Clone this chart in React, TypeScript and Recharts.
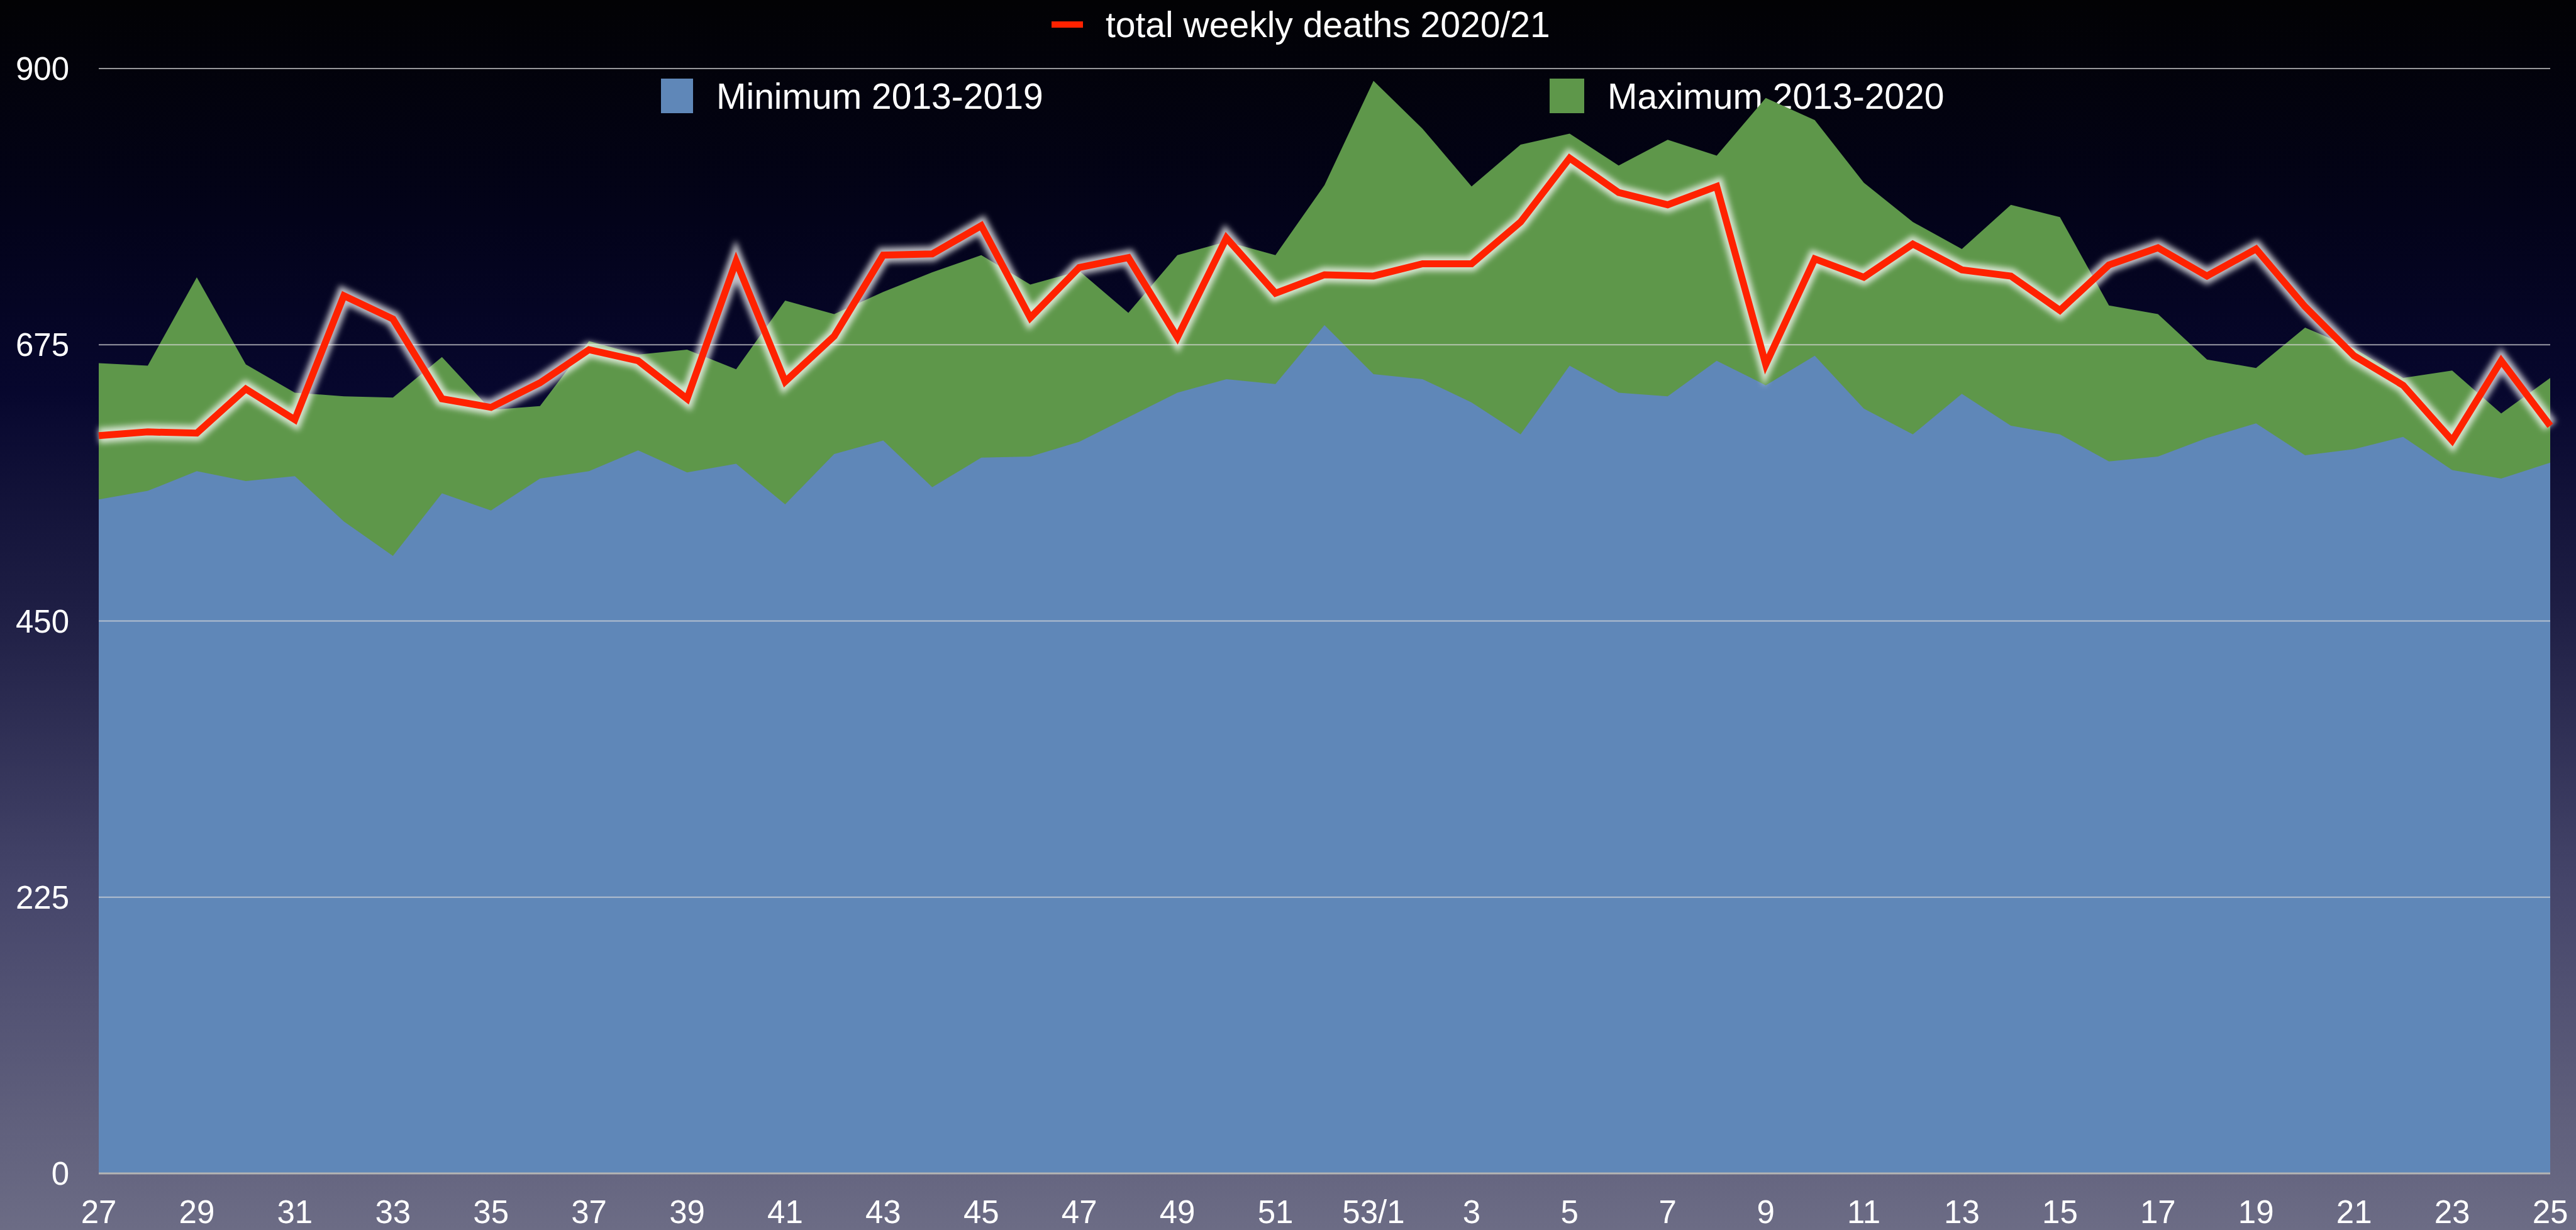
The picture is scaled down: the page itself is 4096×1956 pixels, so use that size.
import React from "react";
import { ComposedChart, Area, Line, XAxis, YAxis, ReferenceLine } from "recharts";

const weeks = [
  "27", "28", "29", "30", "31", "32", "33", "34", "35", "36", "37", "38", "39",
  "40", "41", "42", "43", "44", "45", "46", "47", "48", "49", "50", "51", "52",
  "53/1", "2", "3", "4", "5", "6", "7", "8", "9", "10", "11", "12", "13", "14",
  "15", "16", "17", "18", "19", "20", "21", "22", "23", "24", "25",
];

const totalDeaths2020 = [
  601, 604, 603, 639, 614, 715, 696, 631, 624, 644, 671, 662, 631,
  743, 645, 682, 748, 749, 772, 697, 738, 746, 681, 762, 717, 732,
  731, 741, 741, 775, 827, 799, 789, 804, 659, 745, 730, 757, 736, 731,
  703, 740, 754, 731, 753, 706, 666, 642, 597, 662, 609,
];

const minimum2013to2019 = [
  549, 556, 572, 564, 568, 531, 503, 554, 540, 566, 572, 589, 571,
  578, 545, 586, 597, 559, 583, 584, 596, 616, 636, 647, 643, 691,
  651, 647, 628, 602, 658, 636, 633, 662, 642, 666, 623, 602, 635, 609,
  602, 580, 584, 599, 611, 585, 590, 600, 573, 566, 579,
];

const maximum2013to2020 = [
  660, 658, 730, 659, 636, 633, 632, 665, 622, 625, 678, 667, 671,
  655, 711, 700, 718, 734, 748, 724, 735, 701, 748, 759, 748, 805,
  890, 851, 804, 838, 847, 821, 842, 829, 876, 858, 807, 775, 753, 789,
  779, 707, 700, 663, 656, 689, 672, 648, 654, 619, 648,
];

const yTicks = [0, 225, 450, 675, 900];
const gridLevels = [225, 450, 675, 900];

const chartData = weeks.map((week, i) => ({
  week,
  total: totalDeaths2020[i],
  min: minimum2013to2019[i],
  max: maximum2013to2020[i],
}));

const FONT = '"Liberation Sans", Helvetica, Arial, sans-serif';
const BLUE = "#5f87b8";
const GREEN = "#5e974a";
const RED = "#ff2200";

const App: React.FC = () => {
  return (
    <div
      style={{
        position: "absolute",
        left: 0,
        top: 0,
        width: 4096,
        height: 1956,
        overflow: "hidden",
        fontFamily: FONT,
        background:
          "linear-gradient(to bottom, #020204 0%, #03031a 18%, #07072e 32%, #1f1f45 50%, #45456a 72%, #6c6c85 100%)",
      }}
    >
      {/* legend, drawn by hand */}
      <div style={{ position: "absolute", left: 1672, top: 34, width: 50, height: 10, background: RED }} />
      <div style={{ position: "absolute", left: 1758, top: 39, transform: "translateY(-50%)", color: "#fff", fontSize: 57, whiteSpace: "nowrap", lineHeight: 1 }}>
        total weekly deaths 2020/21
      </div>
      <div style={{ position: "absolute", left: 1051, top: 125, width: 51, height: 55, background: BLUE }} />
      <div style={{ position: "absolute", left: 1139, top: 153, transform: "translateY(-50%)", color: "#fff", fontSize: 57, whiteSpace: "nowrap", lineHeight: 1 }}>
        Minimum 2013-2019
      </div>
      <div style={{ position: "absolute", left: 2464, top: 125, width: 55, height: 55, background: GREEN }} />
      <div style={{ position: "absolute", left: 2556, top: 153, transform: "translateY(-50%)", color: "#fff", fontSize: 57, whiteSpace: "nowrap", lineHeight: 1 }}>
        Maximum 2013-2020
      </div>

      <ComposedChart
        width={4096}
        height={1956}
        data={chartData}
        margin={{ top: 109, right: 41, left: 0, bottom: 0 }}
        style={{ position: "absolute", left: 0, top: 0 }}
      >
        <defs>
          <filter id="glow" x="-5%" y="-20%" width="110%" height="140%">
            <feGaussianBlur stdDeviation="5" />
          </filter>
        </defs>
        <XAxis
          dataKey="week"
          interval={1}
          height={90}
          tickSize={0}
          tickMargin={43}
          axisLine={{ stroke: "#b4b4b4", strokeWidth: 3 }}
          tick={{ fill: "#ffffff", fontSize: 51, fontFamily: FONT }}
        />
        <YAxis
          domain={[0, 900]}
          ticks={yTicks}
          width={157}
          tickSize={0}
          tickMargin={47}
          axisLine={false}
          tick={{ fill: "#ffffff", fontSize: 51, fontFamily: FONT }}
        />
        <Area
          type="linear"
          dataKey="max"
          stroke="none"
          fill={GREEN}
          fillOpacity={1}
          isAnimationActive={false}
        />
        <Area
          type="linear"
          dataKey="min"
          stroke="none"
          fill={BLUE}
          fillOpacity={1}
          isAnimationActive={false}
        />
        {gridLevels.map((v) => (
          <ReferenceLine key={v} y={v} stroke="rgba(215,215,215,0.7)" strokeWidth={2} />
        ))}
        <Line
          type="linear"
          dataKey="total"
          stroke="#ffffff"
          strokeOpacity={0.75}
          strokeWidth={24}
          filter="url(#glow)"
          dot={false}
          activeDot={false}
          legendType="none"
          isAnimationActive={false}
        />
        <Line
          type="linear"
          dataKey="total"
          stroke={RED}
          strokeWidth={11}
          strokeLinejoin="miter"
          dot={false}
          activeDot={false}
          isAnimationActive={false}
        />
      </ComposedChart>
    </div>
  );
};

export default App;
